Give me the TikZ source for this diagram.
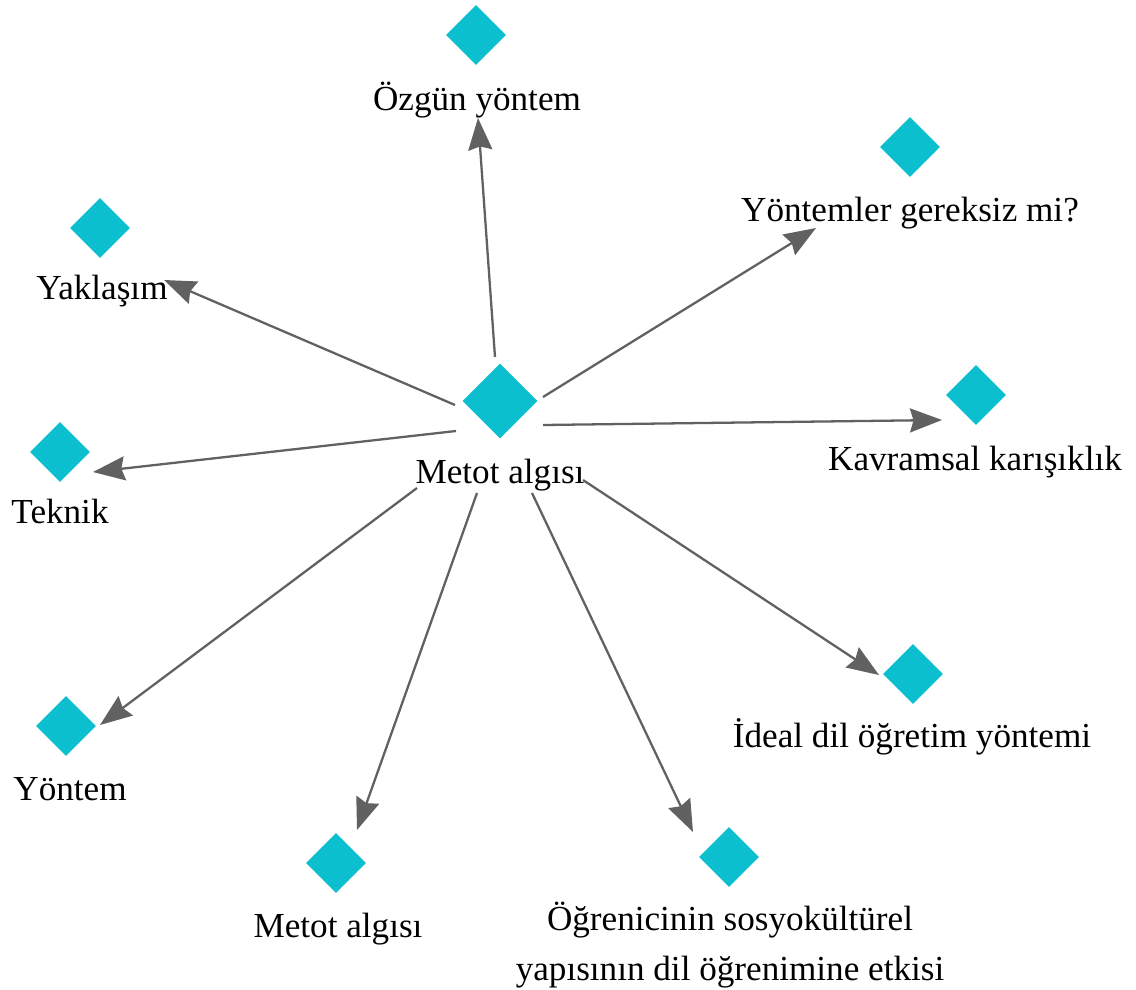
\documentclass[tikz,border=0pt]{standalone}
\usepackage{fontspec}
\setmainfont{Liberation Serif}
\usetikzlibrary{shapes.geometric,arrows.meta}
\definecolor{dia}{HTML}{0BBFCE}
\definecolor{arrc}{HTML}{616161}
\tikzset{
  dnode/.style={diamond,fill=dia,draw=none,inner sep=0pt,minimum width=1.2cm,minimum height=1.2cm},
  bignode/.style={dnode,minimum width=1.5cm,minimum height=1.5cm},
  lbl/.style={anchor=base,inner sep=0pt,font=\fontsize{20}{28.5}\selectfont,align=center},
  arr/.style={draw=arrc,line width=1.3pt,-{Stealth[length=0.64cm,width=0.48cm,inset=0.07cm]}}
}
\begin{document}
\begin{tikzpicture}[x=0.02cm,y=-0.02cm]
\useasboundingbox (0,0) rectangle (1136,990);
% diamonds
\node[bignode] (c) at (500,401) {};
\node[dnode] (d1) at (476,35) {};
\node[dnode] (d2) at (910,147) {};
\node[dnode] (d3) at (100,228) {};
\node[dnode] (d4) at (976,395) {};
\node[dnode] (d5) at (60,452) {};
\node[dnode] (d6) at (66,726) {};
\node[dnode] (d7) at (336,863) {};
\node[dnode] (d8) at (729,857) {};
\node[dnode] (d9) at (913,674) {};
% labels
\node[lbl] (lc) at (500,483) {Metot algısı};
\node[lbl] (l1) at (477,111) {Özgün yöntem};
\node[lbl] (l2) at (910,221) {Yöntemler gereksiz mi?};
\node[lbl] (l3) at (102,299) {Yaklaşım};
\node[lbl] (l4) at (975,470) {Kavramsal karışıklık};
\node[lbl] (l5) at (60,523) {Teknik};
\node[lbl] (l6) at (70,800) {Yöntem};
\node[lbl] (l7) at (338,937) {Metot algısı};
\node[lbl] (l8a) at (730,930) {Öğrenicinin sosyokültürel};
\node[lbl] (l8b) at (730,980) {yapısının dil öğrenimine etkisi};
\node[lbl] (l9) at (912,747) {İdeal dil öğretim yöntemi};
% connectors
\draw[arr] ([shift={(-5,-44)}]c.center) -- ([shift={(2,83)}]d1.center);
\draw[arr] ([shift={(43,-4)}]c.center) -- ([shift={(-94,81)}]d2.center);
\draw[arr] ([shift={(-45,4)}]c.center) -- ([shift={(64,52)}]d3.center);
\draw[arr] ([shift={(43,24)}]c.center) -- ([shift={(-34,25)}]d4.center);
\draw[arr] ([shift={(-44,30)}]c.center) -- ([shift={(33,20)}]d5.center);
\draw[arr] ([shift={(-83,87)}]c.center) -- ([shift={(34,-1)}]d6.center);
\draw[arr] ([shift={(-23,92)}]c.center) -- ([shift={(21,-33)}]d7.center);
\draw[arr] ([shift={(32,92)}]c.center) -- ([shift={(-36,-25)}]d8.center);
\draw[arr] ([shift={(83,79)}]c.center) -- ([shift={(-34,1)}]d9.center);
\end{tikzpicture}
\end{document}
